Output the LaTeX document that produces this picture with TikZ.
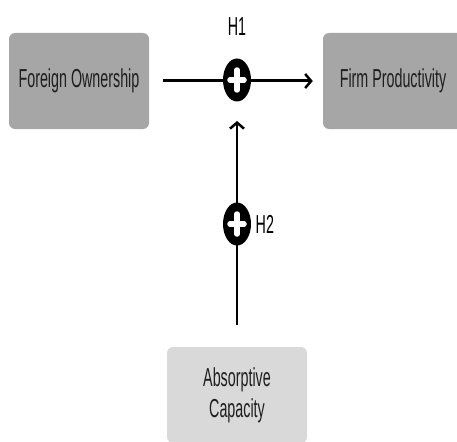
\documentclass[tikz,border=0pt]{standalone}
\usepackage{fontspec}
\setmainfont[FakeStretch=0.55]{Liberation Sans}
\usetikzlibrary{arrows.meta, positioning, shapes.geometric}
\definecolor{BoxDark}{HTML}{A6A6A6}
\definecolor{BoxLight}{HTML}{D9D9D9}
\definecolor{TextDark}{HTML}{1E1E1E}
\tikzset{
  % Box styles
  varbox/.style={rectangle, rounded corners=6pt, fill=BoxDark, minimum width=140pt, minimum height=96pt, text=TextDark, font=\fontsize{26}{31}\selectfont, align=center},
  modbox/.style={varbox, fill=BoxLight},
  % Arrow styles
  effect/.style={-{Straight Barb[length=6pt,width=14pt,line width=2.5pt]}, line width=3pt, black},
  % Sign styles
  plussign/.style={ellipse, fill=black, minimum width=28pt, minimum height=43pt, inner sep=0pt},
  plusbar/.style={white, line width=5.5pt, line cap=round},
  hlabel/.style={font=\fontsize{26}{28}\selectfont, text=black}
}

\begin{document}
\begin{tikzpicture}[x=1pt, y=-1pt]
  \useasboundingbox (0,0) rectangle (457,441);
  % Variables
  \node[varbox] (fo) at (79,81) {Foreign Ownership};
  \node[varbox] (fp) at (393,81) {Firm Productivity};
  \node[modbox] (ac) at (237,395) {Absorptive\\Capacity};

  % Direct effect
  \draw[effect, shorten <=14pt, shorten >=10pt] (fo.east) -- (fp.west);
  \coordinate (tip) at (237,121);
  \draw[effect, line width=2.5pt, shorten <=22pt] (ac.north) -- (tip);

  % Signs
  \node[plussign] (p1) at (237,80) {};
  \node[plussign] (p2) at (237,224) {};
  \foreach \p in {p1,p2} {
    \draw[plusbar] ([yshift=-10pt]\p.center) -- ([yshift=10pt]\p.center);
    \draw[plusbar] ([xshift=-7pt]\p.center) -- ([xshift=7pt]\p.center);
  }
  \node[hlabel, above=19pt of p1] (h1) {H1};
  \node[hlabel, right=1pt of p2] (h2) {H2};
\end{tikzpicture}
\end{document}
